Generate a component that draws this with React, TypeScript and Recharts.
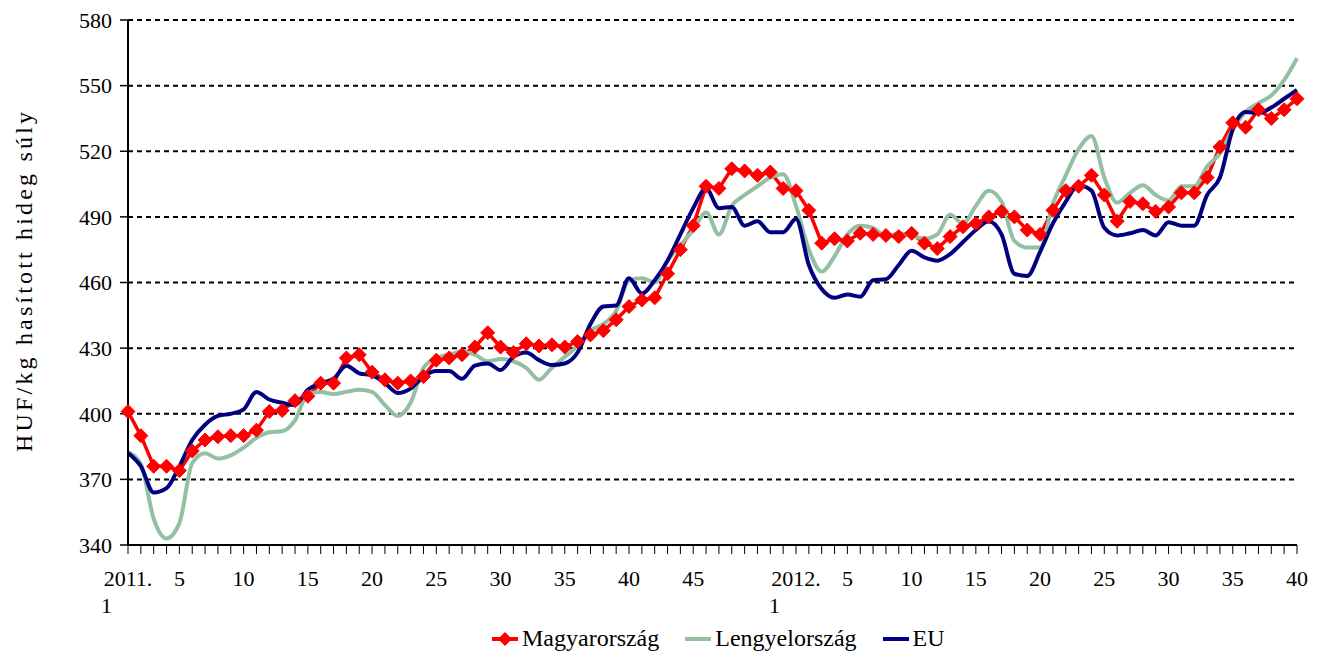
import { LineChart, Line, XAxis, YAxis, CartesianGrid, Label } from "recharts";

// 2011: 52 weeks, 2012: 40 weeks
const WEEKS_2011 = 52;
const WEEKS_2012 = 40;

const CATEGORIES = [
  ...Array.from({ length: WEEKS_2011 }, (_, i) => ({ year: 2011, week: i + 1 })),
  ...Array.from({ length: WEEKS_2012 }, (_, i) => ({ year: 2012, week: i + 1 })),
];

const HU = [
  401, 390, 376, 376, 374, 383, 388, 389.5, 390, 390,
  392.5, 401, 401.5, 406, 408, 414, 414, 425.5, 427, 419,
  415.5, 414, 415, 417, 424.5, 425.5, 427, 430.5, 437, 430.5,
  428, 432, 431, 431.5, 430.5, 433, 436, 438, 443, 449,
  452, 453, 464, 475, 486, 504, 503, 512, 511, 509,
  510.5, 503, 502, 493, 478, 480, 479, 482.5, 482, 481.5,
  481, 482.5, 478, 475.5, 481, 485.5, 487, 490, 492.5, 490,
  484, 482, 493, 502, 504, 509, 500, 488, 497, 496,
  492.5, 494.5, 501, 501, 508, 522, 533, 531, 539, 535,
  539, 544,
];

const PL = [
  382.5, 377, 352, 343, 350, 377.5, 382, 379.5, 381, 384.5,
  389, 391.5, 392, 397, 409, 410, 409, 410, 411, 410,
  404, 399, 405, 421, 425.5, 427, 428.5, 427, 424, 425,
  424, 421, 415.5, 421, 426, 431, 438, 441, 447, 461,
  462, 460, 470, 477, 484, 492, 482, 495, 500, 504,
  508, 509.5, 495, 475, 465, 472, 482, 486, 485, 481,
  482.5, 481.5, 480, 482, 491, 487, 495, 502, 497, 479,
  476, 476, 496, 509, 521, 527, 508, 496.5, 501, 504.5,
  500, 497.5, 504, 504, 513, 519, 530, 538, 542, 545.5,
  552.5, 562.5,
];

const EU = [
  382, 376, 364, 366, 376, 388, 395, 399, 400, 402,
  410, 406.5, 405, 404, 411, 414, 416, 422, 418.5, 417.5,
  414, 409.5, 411.5, 417, 419.5, 419.5, 416, 422, 423, 420,
  426, 428, 424.5, 422.3, 423, 428, 441, 449, 449.5, 462,
  455, 461, 470, 482, 494, 503, 494, 494.5, 486, 488,
  483, 483, 489, 468, 457, 453, 454.5, 453.5, 461, 461.5,
  468, 474.5, 471.5, 470, 473, 478.5, 484, 488, 482, 464,
  463, 474, 487, 497, 504.5, 502, 485, 481.5, 482.5, 484,
  481.5, 487.5, 486, 486, 500, 508, 530, 538, 537.5, 540,
  544, 548,
];

const Y_TICKS = [340, 370, 400, 430, 460, 490, 520, 550, 580];

const SERIES = [
  { key: "hu", label: "Magyarország", color: "#FF0000" },
  { key: "pl", label: "Lengyelország", color: "#93BFA2" },
  { key: "eu", label: "EU", color: "#000080" },
];

const data = CATEGORIES.map((c, i) => ({
  name: `${c.year}.${c.week}`,
  hu: HU[i],
  pl: PL[i],
  eu: EU[i],
}));

const FONT = "'Liberation Serif', 'Times New Roman', serif";
const FS = 22;

function Diamond(props: any) {
  const { cx, cy } = props;
  if (cx == null || cy == null) return null;
  const r = 7;
  return (
    <polygon
      points={`${cx},${cy - r} ${cx + r},${cy} ${cx},${cy + r} ${cx - r},${cy}`}
      fill="#FF0000"
      stroke="#FF0000"
    />
  );
}

function XTick(props: any) {
  const { x, y, index } = props;
  const c = CATEGORIES[index];
  if (!c) return null;
  if (c.week === 1) {
    return (
      <g>
        <text x={x} y={y} dy="0.71em" textAnchor="middle" fontSize={FS} fontFamily={FONT} fill="#000">
          {`${c.year}.`}
        </text>
        <text x={x - 27} y={y + 27} dy="0.71em" textAnchor="start" fontSize={FS} fontFamily={FONT} fill="#000">
          1
        </text>
      </g>
    );
  }
  // last weeks of 2011 have no label (would collide with "2012.")
  if (c.week % 5 !== 0 || (c.year === 2011 && c.week > 45)) return null;
  return (
    <text x={x} y={y} dy="0.71em" textAnchor="middle" fontSize={FS} fontFamily={FONT} fill="#000">
      {c.week}
    </text>
  );
}

function YLabel() {
  return (
    <text
      x={0}
      y={0}
      transform="translate(24, 282) rotate(-90)"
      textAnchor="middle"
      dominantBaseline="central"
      fontSize={24}
      fontFamily={FONT}
      textLength={340}
      lengthAdjust="spacing"
      fill="#000"
    >
      HUF/kg hasított hideg súly
    </text>
  );
}

export default function App() {
  return (
    <div style={{ position: "absolute", left: 0, top: 0, width: 1325, height: 661, background: "#fff", fontFamily: FONT }}>
      <LineChart width={1325} height={661} data={data} margin={{ top: 20, right: 28, left: 0, bottom: 56 }}>
        <CartesianGrid horizontal vertical={false} stroke="#000" strokeWidth={2} strokeDasharray="5 4" />
        <XAxis
          dataKey="name"
          interval={0}
          height={60}
          tick={<XTick />}
          tickSize={9}
          tickMargin={16}
          axisLine={{ stroke: "#000", strokeWidth: 2 }}
          tickLine={{ stroke: "#000", strokeWidth: 1 }}
        />
        <YAxis
          width={128}
          domain={[340, 580]}
          ticks={Y_TICKS}
          interval={0}
          tickSize={8}
          tickMargin={8}
          tick={{ fontSize: FS, fontFamily: FONT, fill: "#000" }}
          axisLine={{ stroke: "#000", strokeWidth: 2 }}
          tickLine={{ stroke: "#000", strokeWidth: 1.5 }}
        >
          <Label content={<YLabel />} />
        </YAxis>
        <Line
          dataKey="hu"
          type="linear"
          stroke="#FF0000"
          strokeWidth={3.5}
          dot={<Diamond />}
          isAnimationActive={false}
        />
        <Line
          dataKey="pl"
          type="monotone"
          stroke="#93BFA2"
          strokeWidth={4}
          dot={false}
          isAnimationActive={false}
        />
        <Line
          dataKey="eu"
          type="monotone"
          stroke="#000080"
          strokeWidth={4}
          dot={false}
          isAnimationActive={false}
        />
      </LineChart>
      <div
        style={{
          position: "absolute",
          top: 625,
          left: 492,
          display: "flex",
          gap: 26,
          fontSize: 24,
          color: "#000",
          whiteSpace: "nowrap",
        }}
      >
        {SERIES.map((s) => (
          <div key={s.key} style={{ display: "flex", alignItems: "center", gap: 4 }}>
            <svg width={26} height={16}>
              <line x1={0} y1={8} x2={26} y2={8} stroke={s.color} strokeWidth={4} />
              {s.key === "hu" && <polygon points="13,1 20,8 13,15 6,8" fill={s.color} />}
            </svg>
            {s.label}
          </div>
        ))}
      </div>
    </div>
  );
}
